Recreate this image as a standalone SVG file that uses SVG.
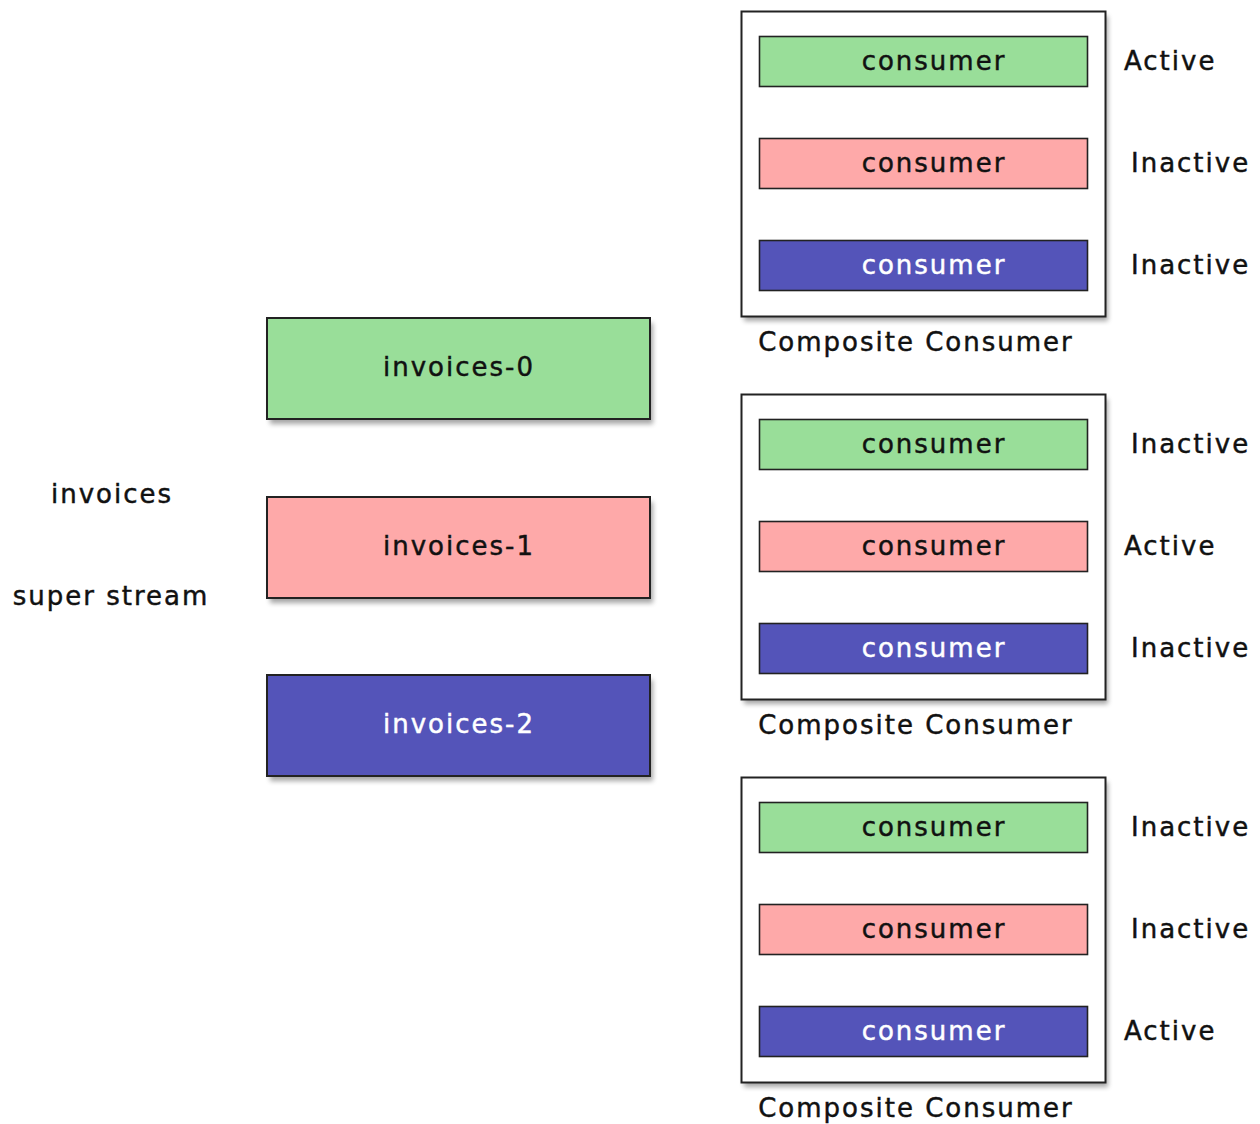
<svg xmlns="http://www.w3.org/2000/svg" width="1260" height="1124" viewBox="0 0 1260 1124">
<style>
text{font-family:"DejaVu Sans","Liberation Sans",sans-serif;font-size:26px;letter-spacing:2px;fill:#111;stroke:#111;stroke-width:0.45px}
.c{text-anchor:middle}
text.w{fill:#fff;stroke:#fff}
.green{fill:#99de99}
.pink{fill:#fea9a9}
.blue{fill:#5454b9}
.box{stroke:#222;stroke-width:2}
.inner{stroke:#222;stroke-width:1.6}
.comp{fill:#fff;stroke:#222;stroke-width:2}
.sh{fill:#000;opacity:0.35;filter:url(#blur)}
</style>
<defs>
<filter id="blur" x="-10%" y="-10%" width="120%" height="130%"><feGaussianBlur stdDeviation="2.5"/></filter>
</defs>
<rect width="1260" height="1124" fill="#fff"/>
<g id="labels-left">
<text class="c" x="112" y="503">invoices</text>
<text class="c" x="111" y="605">super stream</text>
</g>
<g id="invoices-0">
<rect class="sh" x="270" y="323" width="383" height="101"/>
<rect class="box green" x="267" y="318" width="383" height="101"/>
<text class="c" x="459" y="376">invoices-0</text>
</g>
<g id="invoices-1">
<rect class="sh" x="270" y="502" width="383" height="101"/>
<rect class="box pink" x="267" y="497" width="383" height="101"/>
<text class="c" x="459" y="555">invoices-1</text>
</g>
<g id="invoices-2">
<rect class="sh" x="270" y="680" width="383" height="101"/>
<rect class="box blue" x="267" y="675" width="383" height="101"/>
<text class="c w" x="459" y="733">invoices-2</text>
</g>
<g id="composite-1">
<rect class="sh" x="744" y="16" width="364" height="305"/>
<rect class="comp" x="741.5" y="11.5" width="364" height="305"/>
<rect class="inner green" x="759.5" y="36.5" width="328" height="50"/>
<text class="c" x="934" y="70">consumer</text>
<rect class="inner pink" x="759.5" y="138.5" width="328" height="50"/>
<text class="c" x="934" y="172">consumer</text>
<rect class="inner blue" x="759.5" y="240.5" width="328" height="50"/>
<text class="c w" x="934" y="274">consumer</text>
<text class="c" x="916" y="351">Composite Consumer</text>
<text x="1124" y="70">Active</text>
<text x="1131" y="172">Inactive</text>
<text x="1131" y="274">Inactive</text>
</g>
<g id="composite-2">
<rect class="sh" x="744" y="399" width="364" height="305"/>
<rect class="comp" x="741.5" y="394.5" width="364" height="305"/>
<rect class="inner green" x="759.5" y="419.5" width="328" height="50"/>
<text class="c" x="934" y="453">consumer</text>
<rect class="inner pink" x="759.5" y="521.5" width="328" height="50"/>
<text class="c" x="934" y="555">consumer</text>
<rect class="inner blue" x="759.5" y="623.5" width="328" height="50"/>
<text class="c w" x="934" y="657">consumer</text>
<text class="c" x="916" y="734">Composite Consumer</text>
<text x="1131" y="453">Inactive</text>
<text x="1124" y="555">Active</text>
<text x="1131" y="657">Inactive</text>
</g>
<g id="composite-3">
<rect class="sh" x="744" y="782" width="364" height="305"/>
<rect class="comp" x="741.5" y="777.5" width="364" height="305"/>
<rect class="inner green" x="759.5" y="802.5" width="328" height="50"/>
<text class="c" x="934" y="836">consumer</text>
<rect class="inner pink" x="759.5" y="904.5" width="328" height="50"/>
<text class="c" x="934" y="938">consumer</text>
<rect class="inner blue" x="759.5" y="1006.5" width="328" height="50"/>
<text class="c w" x="934" y="1040">consumer</text>
<text class="c" x="916" y="1117">Composite Consumer</text>
<text x="1131" y="836">Inactive</text>
<text x="1131" y="938">Inactive</text>
<text x="1124" y="1040">Active</text>
</g>
<g id="connectors"/>
</svg>
